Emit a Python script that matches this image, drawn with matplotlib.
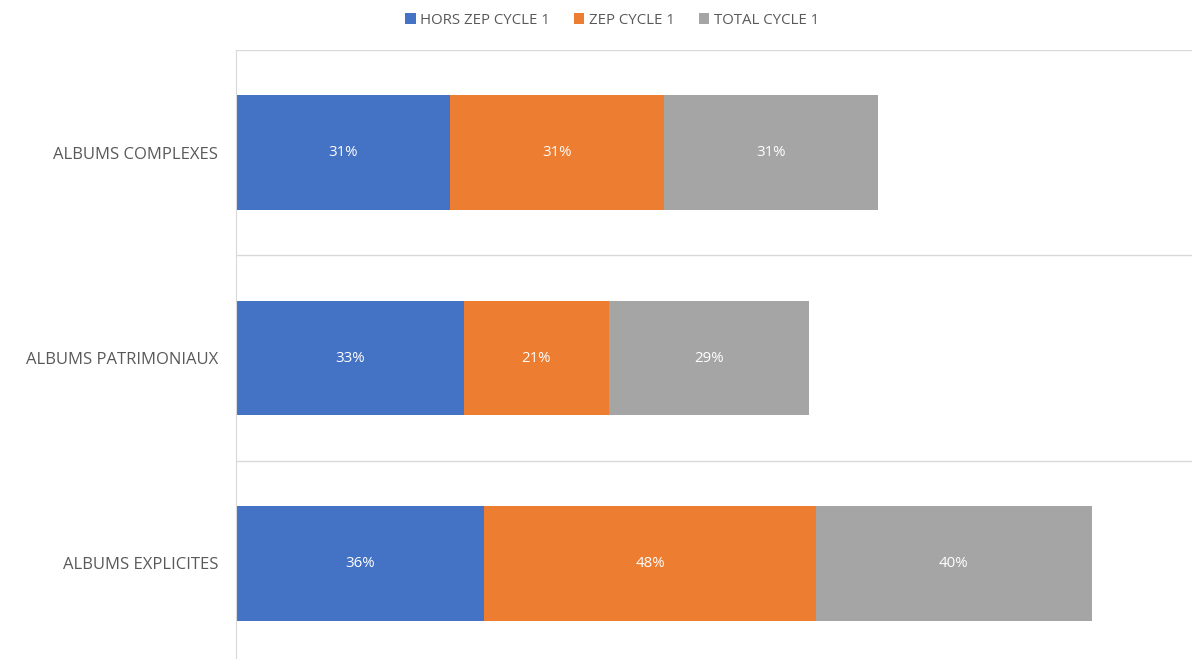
#Horizontal stacked bars: albums by cycle 1 group
import matplotlib.pyplot as plt
import numpy as np

plt.rcParams['font.family'] = ['Open Sans', 'DejaVu Sans']

### DATA
categories = ['ALBUMS COMPLEXES', 'ALBUMS PATRIMONIAUX', 'ALBUMS EXPLICITES']
series = ['HORS ZEP CYCLE 1', 'ZEP CYCLE 1', 'TOTAL CYCLE 1']
hors_zep = [31, 33, 36]
zep = [31, 21, 48]
total = [31, 29, 40]
colors = ['#4472C4', '#ED7D31', '#A5A5A5']

### PLOT
fig = plt.figure(figsize=(11.92, 6.59), dpi=100)
#axes runs a bit below the picture, like the original
ax = fig.add_axes([236/1192, -7/659, 956/1192, 616/659])

y = np.arange(len(categories))
left = np.zeros(len(categories))
for name, vals, c in zip(series, [hors_zep, zep, total], colors):
    bars = ax.barh(y, vals, left=left, height=0.56, color=c, label=name)
    ax.bar_label(bars, labels=[f'{v}%' for v in vals], label_type='center',
                 color='white', fontsize=10.8)
    left = left + np.array(vals)

ax.set_xlim(0, 138.5)
ax.set_ylim(2.5, -0.5)
ax.set_yticks(y)
ax.set_yticklabels(categories, color='#595959', fontsize=12)
ax.tick_params(axis='y', length=0, pad=13)
ax.set_xticks([])

#category separators
for b in np.arange(-0.5, len(categories), 1.0):
    ax.axhline(b, color='#d9d9d9', lw=1, zorder=0)

for s in ['top', 'right', 'bottom']:
    ax.spines[s].set_visible(False)
ax.spines['left'].set_color('#d9d9d9')

fig.legend(loc='center', bbox_to_anchor=(612/1192, 1-20/659), ncol=3,
           frameon=False, fontsize=10.8, handlelength=0.7, handleheight=0.7,
           handletextpad=0.3, columnspacing=1.6, labelcolor='#595959')

plt.savefig('out.png', dpi=100)
